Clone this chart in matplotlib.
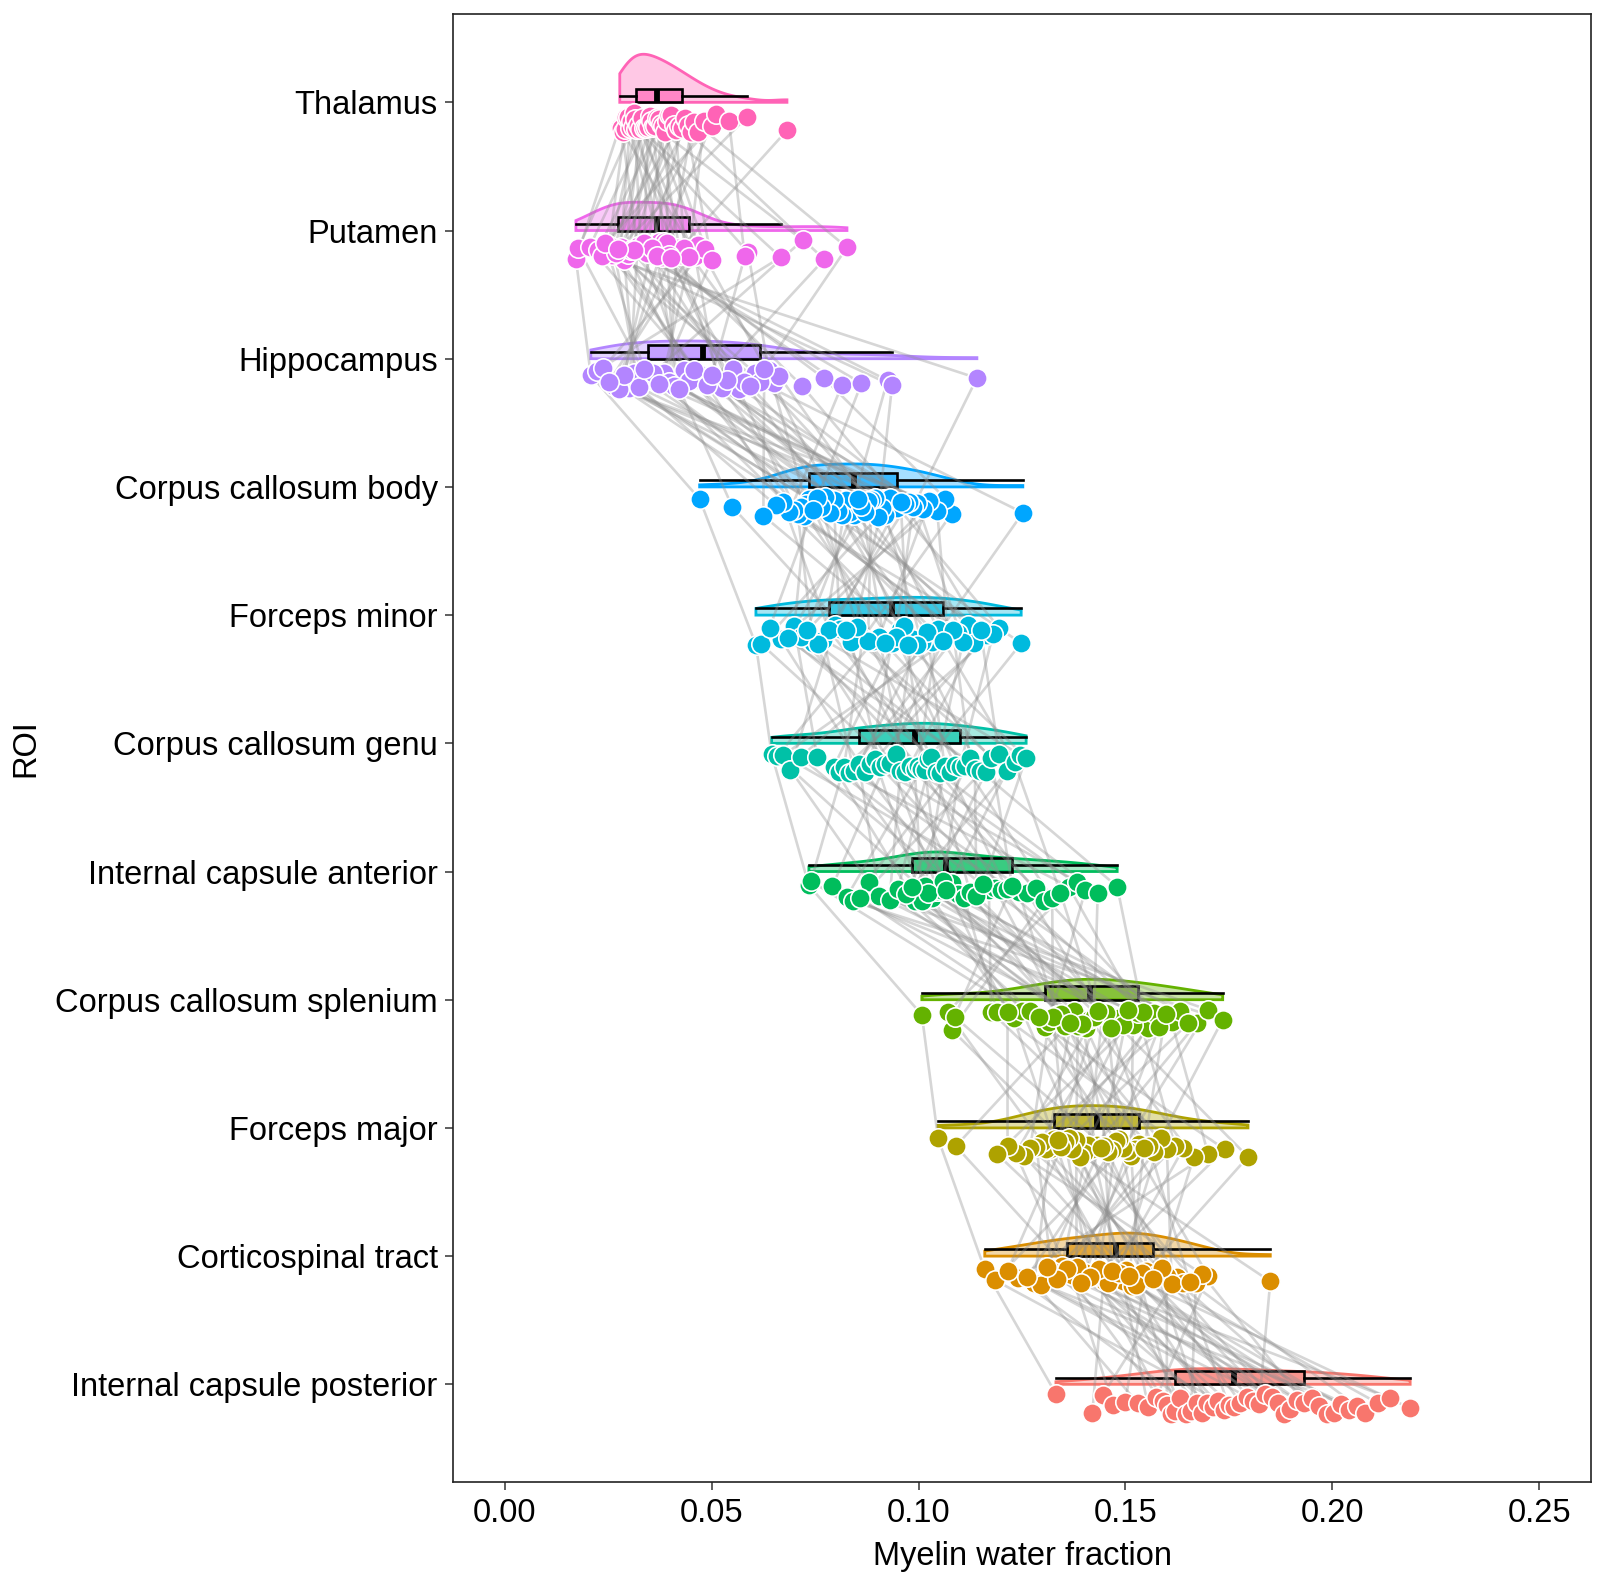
import numpy as np
import matplotlib
matplotlib.use("Agg")
import matplotlib.pyplot as plt

plt.rcParams['font.family'] = ['Liberation Sans', 'DejaVu Sans']

# ---- categories (bottom to top) and colours ----
roi_labels = ["Internal capsule posterior", "Corticospinal tract", "Forceps major",
              "Corpus callosum splenium", "Internal capsule anterior", "Corpus callosum genu",
              "Forceps minor", "Corpus callosum body", "Hippocampus", "Putamen", "Thalamus"]
roi_colors = ["#F8766D", "#DB8E00", "#AEA200", "#64B200", "#00BD5C", "#00C1A7",
              "#00BADE", "#00A6FF", "#B385FF", "#EF67EB", "#FF63B6"]

# ---- myelin water fraction per subject (same subject order in each list) ----
mwf_thalamus = [0.0278, 0.0282, 0.0286, 0.0290, 0.0294, 0.0298, 0.0302, 0.0306, 0.0309, 0.0312,
                0.0315, 0.0317, 0.0322, 0.0327, 0.0332, 0.0337, 0.0342, 0.0346, 0.0350, 0.0354,
                0.0358, 0.0362, 0.0367, 0.0372, 0.0377, 0.0382, 0.0387, 0.0392, 0.0397, 0.0402,
                0.0408, 0.0414, 0.0421, 0.0428, 0.0435, 0.0442, 0.0450, 0.0458, 0.0468, 0.0482,
                0.0500, 0.0510, 0.0542, 0.0585, 0.0682]
mwf_putamen = [0.0172, 0.0321, 0.0452, 0.0250, 0.0373, 0.0588, 0.0281, 0.0409, 0.0178, 0.0329,
               0.0460, 0.0255, 0.0379, 0.0667, 0.0289, 0.0416, 0.0205, 0.0337, 0.0468, 0.0260,
               0.0385, 0.0720, 0.0297, 0.0424, 0.0225, 0.0345, 0.0485, 0.0265, 0.0391, 0.0772,
               0.0305, 0.0434, 0.0236, 0.0355, 0.0500, 0.0269, 0.0397, 0.0827, 0.0313, 0.0445,
               0.0243, 0.0367, 0.0580, 0.0273, 0.0403]
mwf_hippocampus = [0.0208, 0.0301, 0.0385, 0.0468, 0.0551, 0.0638, 0.0925, 0.0265, 0.0346, 0.0434,
                   0.0513, 0.0605, 0.0772, 0.0222, 0.0313, 0.0398, 0.0479, 0.0565, 0.0650, 0.0936,
                   0.0277, 0.0359, 0.0446, 0.0525, 0.0617, 0.0815, 0.0237, 0.0325, 0.0410, 0.0490,
                   0.0579, 0.0663, 0.1141, 0.0289, 0.0372, 0.0457, 0.0538, 0.0627, 0.0862, 0.0252,
                   0.0336, 0.0422, 0.0501, 0.0592, 0.0718]
mwf_cc_body = [0.0471, 0.0735, 0.0845, 0.0947, 0.1252, 0.0729, 0.0835, 0.0930, 0.1080, 0.0722,
               0.0825, 0.0920, 0.1065, 0.0716, 0.0815, 0.0911, 0.1045, 0.0708, 0.0805, 0.0902,
               0.1025, 0.0698, 0.0795, 0.0894, 0.1010, 0.0688, 0.0785, 0.0886, 0.0997, 0.0672,
               0.0775, 0.0878, 0.0987, 0.0655, 0.0765, 0.0870, 0.0977, 0.0625, 0.0755, 0.0862,
               0.0967, 0.0550, 0.0745, 0.0854, 0.0957]
mwf_forceps_minor = [0.0607, 0.0891, 0.1120, 0.0797, 0.1033, 0.0700, 0.0955, 0.1195, 0.0865, 0.1095,
                     0.0770, 0.1008, 0.0667, 0.0935, 0.1165, 0.0837, 0.1070, 0.0745, 0.0986, 0.0620,
                     0.0905, 0.1135, 0.0810, 0.1046, 0.0715, 0.0965, 0.1248, 0.0878, 0.1107, 0.0783,
                     0.1021, 0.0685, 0.0945, 0.1180, 0.0852, 0.1083, 0.0757, 0.0997, 0.0640, 0.0918,
                     0.1150, 0.0824, 0.1059, 0.0730, 0.0975]
mwf_cc_genu = [0.0645, 0.0658, 0.0673, 0.0690, 0.0715, 0.0755, 0.0795, 0.0808, 0.0820, 0.0832,
               0.0844, 0.0856, 0.0870, 0.0883, 0.0895, 0.0908, 0.0920, 0.0932, 0.0945, 0.0956,
               0.0967, 0.0979, 0.0991, 0.0999, 0.1007, 0.1015, 0.1023, 0.1031, 0.1041, 0.1051,
               0.1063, 0.1076, 0.1088, 0.1100, 0.1112, 0.1124, 0.1136, 0.1149, 0.1162, 0.1176,
               0.1194, 0.1214, 0.1232, 0.1246, 0.1260]
mwf_ic_anterior = [0.0735, 0.1032, 0.1243, 0.0880, 0.1080, 0.1363, 0.0992, 0.1170, 0.0740, 0.1040,
                   0.1263, 0.0905, 0.1095, 0.1383, 0.1000, 0.1185, 0.0792, 0.1047, 0.1283, 0.0930,
                   0.1110, 0.1403, 0.1008, 0.1200, 0.0826, 0.1054, 0.1303, 0.0950, 0.1125, 0.1433,
                   0.1016, 0.1213, 0.0841, 0.1060, 0.1323, 0.0970, 0.1140, 0.1480, 0.1024, 0.1226,
                   0.0858, 0.1066, 0.1343, 0.0984, 0.1155]
mwf_cc_splenium = [0.1008, 0.1230, 0.1335, 0.1405, 0.1474, 0.1555, 0.1672, 0.1175, 0.1306, 0.1375,
                   0.1444, 0.1518, 0.1612, 0.1070, 0.1250, 0.1345, 0.1414, 0.1484, 0.1568, 0.1700,
                   0.1190, 0.1315, 0.1385, 0.1454, 0.1530, 0.1632, 0.1080, 0.1270, 0.1355, 0.1424,
                   0.1495, 0.1582, 0.1735, 0.1215, 0.1325, 0.1395, 0.1464, 0.1542, 0.1652, 0.1087,
                   0.1290, 0.1365, 0.1434, 0.1506, 0.1597]
mwf_forceps_major = [0.1047, 0.1327, 0.1431, 0.1533, 0.1796, 0.1318, 0.1420, 0.1523, 0.1740, 0.1308,
                     0.1410, 0.1514, 0.1700, 0.1298, 0.1400, 0.1505, 0.1665, 0.1285, 0.1390, 0.1495,
                     0.1640, 0.1270, 0.1381, 0.1485, 0.1620, 0.1255, 0.1372, 0.1476, 0.1600, 0.1235,
                     0.1363, 0.1467, 0.1585, 0.1215, 0.1354, 0.1458, 0.1570, 0.1190, 0.1345, 0.1449,
                     0.1557, 0.1090, 0.1336, 0.1440, 0.1545]
mwf_corticospinal = [0.1160, 0.1447, 0.1625, 0.1370, 0.1549, 0.1280, 0.1493, 0.1700, 0.1426, 0.1600,
                     0.1346, 0.1533, 0.1240, 0.1477, 0.1670, 0.1404, 0.1577, 0.1322, 0.1517, 0.1185,
                     0.1457, 0.1640, 0.1382, 0.1558, 0.1295, 0.1501, 0.1850, 0.1437, 0.1612, 0.1358,
                     0.1541, 0.1262, 0.1485, 0.1685, 0.1415, 0.1588, 0.1334, 0.1525, 0.1215, 0.1467,
                     0.1655, 0.1393, 0.1567, 0.1310, 0.1509]
mwf_ic_posterior = [0.1332, 0.1420, 0.1445, 0.1470, 0.1500, 0.1530, 0.1555, 0.1575, 0.1590, 0.1600,
                    0.1610, 0.1620, 0.1633, 0.1646, 0.1659, 0.1672, 0.1685, 0.1698, 0.1711, 0.1724,
                    0.1737, 0.1750, 0.1763, 0.1778, 0.1793, 0.1808, 0.1823, 0.1838, 0.1853, 0.1868,
                    0.1883, 0.1898, 0.1915, 0.1932, 0.1950, 0.1968, 0.1986, 0.2004, 0.2022, 0.2040,
                    0.2060, 0.2080, 0.2110, 0.2140, 0.2188]

x_ticks = [0.00, 0.05, 0.10, 0.15, 0.20, 0.25]
x_tick_labels = ["0.00", "0.05", "0.10", "0.15", "0.20", "0.25"]

roi_values = [mwf_ic_posterior, mwf_corticospinal, mwf_forceps_major, mwf_cc_splenium,
              mwf_ic_anterior, mwf_cc_genu, mwf_forceps_minor, mwf_cc_body,
              mwf_hippocampus, mwf_putamen, mwf_thalamus]
data = [np.asarray(v) for v in roi_values]
n_roi = len(data)
n_sub = len(data[0])
ypos = np.arange(1, n_roi + 1)


# deterministic vertical jitter (hash based, position only)
def hash01(i, k):
    v = np.sin(i * 12.9898 + k * 78.233) * 43758.5453
    return v - np.floor(v)


jit = np.array([[-(0.075 + 0.16 * hash01(i, k)) for i in range(n_sub)] for k in range(n_roi)])

fig = plt.figure(figsize=(16, 15.89), dpi=100)
ax = fig.add_axes([453 / 1600, 1 - 1482 / 1589, (1591 - 453) / 1600, (1482 - 14) / 1589])


def kde(vals, grid):
    v = np.asarray(vals)
    n = len(v)
    sd = v.std(ddof=1)
    iqr = np.subtract(*np.percentile(v, [75, 25]))
    bw = 0.9 * min(sd, iqr / 1.34) * n ** (-0.2)
    z = (grid[:, None] - v[None, :]) / bw
    return np.exp(-0.5 * z ** 2).sum(axis=1) / (n * bw * np.sqrt(2 * np.pi))


grids, dens = [], []
for v in data:
    g = np.linspace(v.min(), v.max(), 512)
    grids.append(g)
    dens.append(kde(v, g))
dmax = max(d.max() for d in dens)
vheight = 0.375

# half violins
for k in range(n_roi):
    g, d = grids[k], dens[k] / dmax * vheight
    xs = np.concatenate([g, g[::-1]])
    ys = np.concatenate([ypos[k] + d, np.full_like(g, ypos[k])])
    ax.fill(xs, ys, facecolor=roi_colors[k], alpha=0.35, edgecolor='none', zorder=1)
    ax.fill(xs, ys, facecolor='none', edgecolor=roi_colors[k], lw=2.0, zorder=1.1)

# boxplots
bp = ax.boxplot(data, positions=ypos + 0.053, widths=0.106, vert=False, whis=1.5,
                showfliers=False, showcaps=False, patch_artist=True, manage_ticks=False,
                boxprops=dict(edgecolor='black', linewidth=1.9),
                whiskerprops=dict(color='black', linewidth=1.9),
                medianprops=dict(color='black', linewidth=4.2, solid_capstyle='butt'),
                zorder=2)
for patch, c in zip(bp['boxes'], roi_colors):
    patch.set_facecolor(matplotlib.colors.to_rgba(c, 0.65))

# subject lines
for i in range(n_sub):
    xs = [data[k][i] for k in range(n_roi)]
    ys = [ypos[k] + jit[k][i] for k in range(n_roi)]
    ax.plot(xs, ys, color='#8E8E8E', alpha=0.36, lw=1.9, zorder=3)

# points
for k in range(n_roi):
    ax.scatter(data[k], ypos[k] + jit[k], s=195, color=roi_colors[k],
               edgecolors='white', linewidths=1.2, zorder=4)

ax.set_xlim(-0.0125, 0.2625)
ax.set_ylim(0.238, 11.689)
ax.set_xticks(x_ticks)
ax.set_xticklabels(x_tick_labels)
ax.set_yticks(ypos)
ax.set_yticklabels(roi_labels)
ax.tick_params(axis='both', labelsize=23.5, length=5.5, width=1.1, color='#333333',
               labelcolor='black')
ax.tick_params(axis='x', pad=6)
ax.tick_params(axis='y', pad=5.5)
for s in ax.spines.values():
    s.set_linewidth(1.2)
    s.set_color('#222222')

fig.text((453 + 1591) / 2 / 1600, 1 - 1556 / 1589, "Myelin water fraction",
         ha='center', va='center', fontsize=23.5)
fig.text(26 / 1600, 1 - 748 / 1589, "ROI", ha='center', va='center',
         rotation=90, fontsize=23.5)

fig.savefig("out.png", dpi=100)
